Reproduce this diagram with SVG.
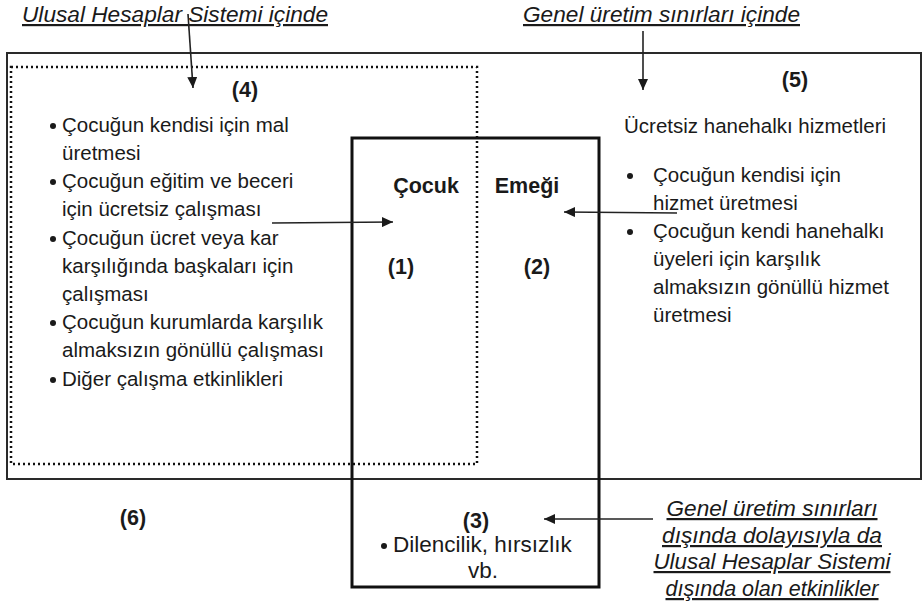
<svg xmlns="http://www.w3.org/2000/svg" width="923" height="604" viewBox="0 0 923 604">
<style>
.t{font-family:"Liberation Sans",Arial,sans-serif;fill:#1a1a1a}
.body{font-size:20.5px}
.big{font-size:22.5px}
.b{font-size:21.5px;font-weight:bold}
.it{font-size:22px;font-style:italic;text-decoration:underline}
.mid{text-anchor:middle}
.con{stroke:#222;stroke-width:1.6;fill:none;marker-end:url(#ah)}
.dot{fill:#1a1a1a}
</style>
<defs>
<marker id="ah" markerUnits="userSpaceOnUse" markerWidth="12" markerHeight="10" refX="11" refY="5" orient="auto">
<path d="M0,0 L11,5 L0,10 z" fill="#1a1a1a"/>
</marker>
</defs>
<rect width="923" height="604" fill="#fff"/>

<g id="outer-region">
<rect x="7" y="53" width="914" height="426" fill="none" stroke="#2a2a2a" stroke-width="2"/>
</g>
<g id="sna-region">
<rect x="11" y="67" width="466" height="397" fill="none" stroke="#111" stroke-width="2.5" stroke-dasharray="2 3"/>
</g>
<g id="child-labour-box">
<rect x="352" y="138" width="247" height="449" fill="none" stroke="#111" stroke-width="3"/>
<text class="t b mid" x="426" y="193">Çocuk</text>
<text class="t b mid" x="527" y="193">Emeği</text>
<text class="t b mid" x="401" y="274">(1)</text>
<text class="t b mid" x="537" y="274">(2)</text>
</g>

<g id="title-sna">
<text class="t it" x="22" y="22" textLength="306" lengthAdjust="spacingAndGlyphs">Ulusal Hesaplar Sistemi içinde</text>
</g>
<g id="title-production">
<text class="t it" x="523" y="22" textLength="277" lengthAdjust="spacingAndGlyphs">Genel üretim sınırları içinde</text>
</g>

<g id="node-4">
<text class="t b mid" x="245" y="97">(4)</text>
<g class="t body">
<circle class="dot" cx="53" cy="126" r="3"/>
<text x="62" y="132">Çocuğun kendisi için mal</text>
<text x="62" y="160">üretmesi</text>
<circle class="dot" cx="53" cy="182" r="3"/>
<text x="62" y="188">Çocuğun eğitim ve beceri</text>
<text x="62" y="216">için ücretsiz çalışması</text>
<circle class="dot" cx="53" cy="239" r="3"/>
<text x="62" y="245">Çocuğun ücret veya kar</text>
<text x="62" y="273">karşılığında başkaları için</text>
<text x="62" y="301">çalışması</text>
<circle class="dot" cx="53" cy="323" r="3"/>
<text x="62" y="329">Çocuğun kurumlarda karşılık</text>
<text x="62" y="357">almaksızın gönüllü çalışması</text>
<circle class="dot" cx="53" cy="380" r="3"/>
<text x="62" y="386">Diğer çalışma etkinlikleri</text>
</g>
</g>

<g id="node-5">
<text class="t b mid" x="795" y="87">(5)</text>
<g class="t body">
<text x="624" y="133">Ücretsiz hanehalkı hizmetleri</text>
<circle class="dot" cx="630" cy="176" r="3"/>
<text x="653" y="182">Çocuğun kendisi için</text>
<text x="653" y="210">hizmet üretmesi</text>
<circle class="dot" cx="630" cy="232" r="3"/>
<text x="653" y="238">Çocuğun kendi hanehalkı</text>
<text x="653" y="266">üyeleri için karşılık</text>
<text x="653" y="294">almaksızın gönüllü hizmet</text>
<text x="653" y="322">üretmesi</text>
</g>
</g>

<g id="node-3">
<text class="t b mid" x="476" y="528">(3)</text>
<circle class="dot" cx="384" cy="546" r="3"/>
<text class="t big" x="393" y="552">Dilencilik, hırsızlık</text>
<text class="t big mid" x="483" y="578">vb.</text>
</g>

<g id="node-6">
<text class="t b mid" x="133" y="525">(6)</text>
</g>

<g id="title-outside">
<text class="t it mid" x="772" y="516" textLength="211" lengthAdjust="spacingAndGlyphs">Genel üretim sınırları</text>
<text class="t it mid" x="772" y="543" textLength="220" lengthAdjust="spacingAndGlyphs">dışında dolayısıyla da</text>
<text class="t it mid" x="772" y="569" textLength="237" lengthAdjust="spacingAndGlyphs">Ulusal Hesaplar Sistemi</text>
<text class="t it mid" x="772" y="596" textLength="213" lengthAdjust="spacingAndGlyphs">dışında olan etkinlikler</text>
</g>

<g id="connectors">
<line class="con" x1="188" y1="14" x2="193" y2="88"/>
<line class="con" x1="643" y1="31" x2="643" y2="90"/>
<line class="con" x1="272" y1="223" x2="393" y2="222"/>
<line class="con" x1="677" y1="213" x2="564" y2="212"/>
<line class="con" x1="653" y1="519" x2="544" y2="519"/>
</g>
</svg>
